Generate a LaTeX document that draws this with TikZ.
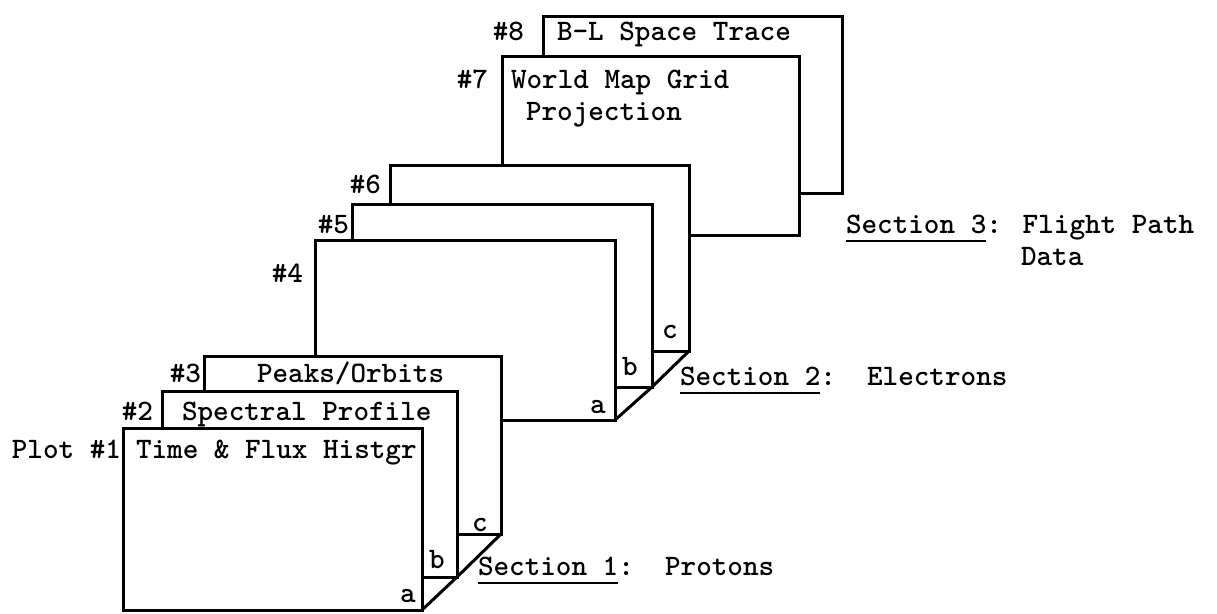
\documentclass[tikz,border=0pt]{standalone}
\usetikzlibrary{calc,fit}
\newcommand{\secul}[1]{\setbox0\hbox{#1}\rlap{\rule[-9pt]{\wd0}{2pt}}\box0}
\begin{document}
\begin{tikzpicture}[x=1pt,y=-1pt,
  plate/.style={draw, fill=white, line width=3pt, rectangle, inner sep=0pt, outer sep=0pt},
  txt/.style={font=\ttfamily\bfseries\fontsize{29.7}{32}\selectfont, inner sep=0pt, outer sep=0pt},
  diag/.style={line width=3pt, line cap=round, line join=round}]
\useasboundingbox (0,0) rectangle (1217,613);

% plates, back to front
\node[plate, fit={(543,16) (842,193)}] (p8) {};
\node[plate, fit={(502,56) (799,235)}] (p7) {};
\node[plate, fit={(390,165) (689,351)}] (p6) {};
\node[plate, fit={(352,204) (652,387)}] (p5) {};
\node[plate, fit={(315,240) (615,420)}] (p4) {};
\node[plate, fit={(204,356) (501,534)}] (p3) {};
\node[plate, fit={(162,391) (457,577)}] (p2) {};
\node[plate, fit={(123,428) (422,610)}] (p1) {};

% folded-corner diagonals
\draw[diag] (p1.south east) -- (p2.south east) -- (p3.south east);
\draw[diag] (p4.south east) -- (p5.south east) -- (p6.south east);

% plate numbers
\node[txt, anchor=base east] (n1) at ($(p1.north west)+(-2,30)$) {Plot \#1};
\node[txt, anchor=base east] (n2) at ($(p2.north west)+(-9,29)$) {\#2};
\node[txt, anchor=base east] (n3) at ($(p3.north west)+(-3,26)$) {\#3};
\node[txt, anchor=base east] (n4) at ($(p4.north west)+(-12,42)$) {\#4};
\node[txt, anchor=base east] (n5) at ($(p5.north west)+(-3,29)$) {\#5};
\node[txt, anchor=base east] (n6) at ($(p6.north west)+(-9,28)$) {\#6};
\node[txt, anchor=base east] (n7) at ($(p7.north west)+(-14,32)$) {\#7};
\node[txt, anchor=base east] (n8) at ($(p8.north west)+(-19,24)$) {\#8};

% plate titles
\node[txt, anchor=base west] (t1) at ($(p1.north west)+(13,30)$) {Time \& Flux Histgr};
\node[txt, anchor=base west] (t2) at ($(p2.north west)+(20,29)$) {Spectral Profile};
\node[txt, anchor=base west] (t3) at ($(p3.north west)+(53,26)$) {Peaks/Orbits};
\node[txt, anchor=base west] (t7a) at ($(p7.north west)+(9,32)$) {World Map Grid};
\node[txt, anchor=base west] (t7b) at ($(p7.north west)+(24,64)$) {Projection};
\node[txt, anchor=base west] (t8) at ($(p8.north west)+(14,24)$) {B-L Space Trace};

% corner letters
\node[txt, anchor=base] (a1) at ($(p1.south east)+(-14,-8)$) {a};
\node[txt, anchor=base] (b1) at ($(p2.south east)+(-20,-9)$) {b};
\node[txt, anchor=base] (c1) at ($(p3.south east)+(-21,-3)$) {c};
\node[txt, anchor=base] (a2) at ($(p4.south east)+(-17,-7)$) {a};
\node[txt, anchor=base] (b2) at ($(p5.south east)+(-22,-12)$) {b};
\node[txt, anchor=base] (c2) at ($(p6.south east)+(-19,-13)$) {c};

% section labels
\node[txt, anchor=base west] (s1) at (478,575) {\secul{Section 1}:\ \ Protons};
\node[txt, anchor=base west] (s2) at (680,385) {\secul{Section 2}:\ \ Electrons};
\node[txt, anchor=base west] (s3) at (846,233) {\secul{Section 3}: Flight Path};
\node[txt, anchor=base west] (s3b) at (1021,265) {Data};
\end{tikzpicture}
\end{document}
